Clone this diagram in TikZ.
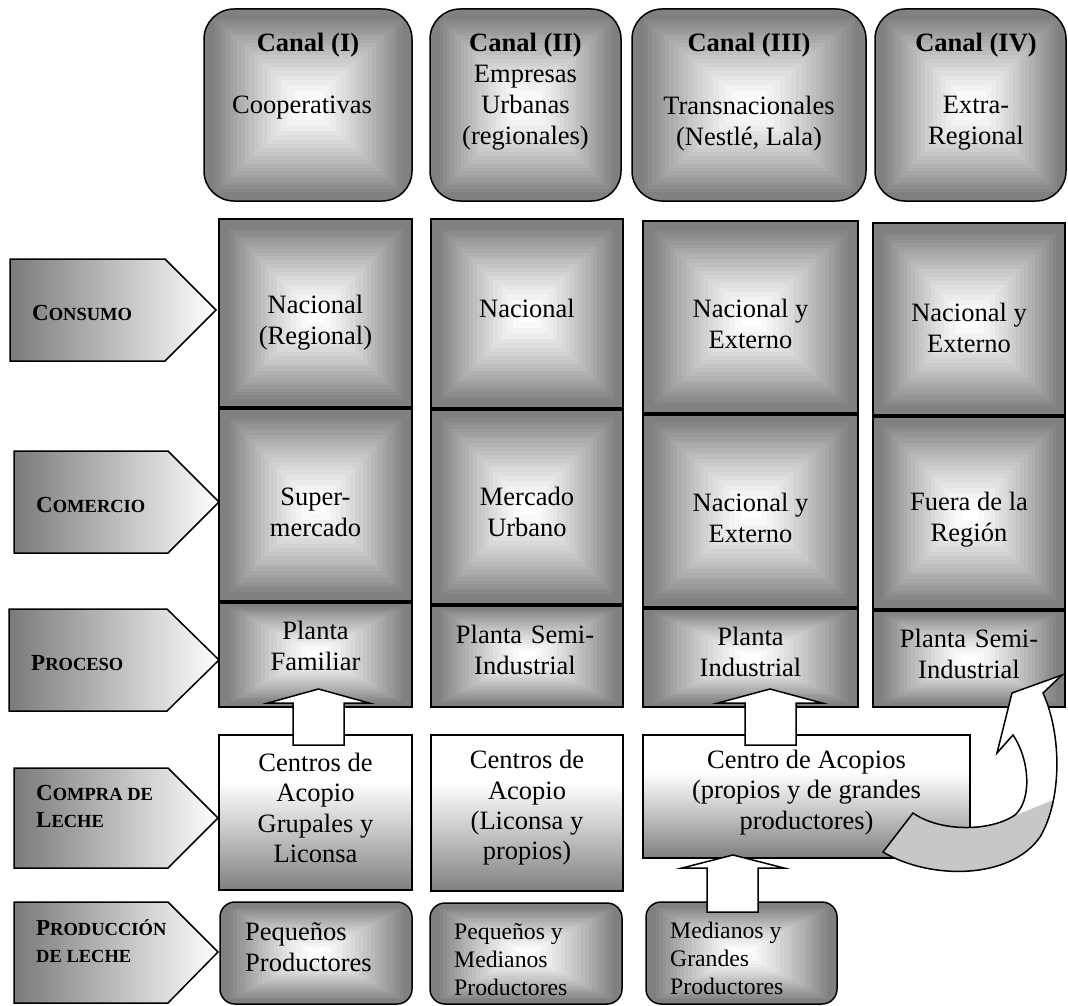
\documentclass[tikz,border=0pt]{standalone}
\usepackage{fontspec}
\setmainfont{Liberation Serif}
\usetikzlibrary{calc}

% grey frame that brightens towards the centre in rectangular rings
\pgfdeclarefunctionalshading{rectglow}{\pgfpoint{-50bp}{-50bp}}{\pgfpoint{50bp}{50bp}}{}{%
  abs exch abs 2 copy lt {exch} if pop
  25 div 0.9 div
  dup 1 gt {pop 1} if
  1.3 exp
  20 mul floor 20 div
  0.5 mul 1 exch sub
  dup dup
}
% white at the top, grey at the bottom
\pgfdeclareverticalshading{compragrad}{100bp}{color(0bp)=(black!50); color(25bp)=(black!50); color(44bp)=(black!22); color(60bp)=(white); color(100bp)=(white)}

\newcommand\placebox[6]{%
  \pgfmathsetmacro\boxwd{#5-#3}%
  \pgfmathsetmacro\boxht{#6-#4}%
  \node[#1, inner sep=0pt, minimum width=\boxwd pt, minimum height=\boxht pt] (#2) at ({(#3+#5)/2},{(#4+#6)/2}) {};%
}
\newcommand\sck[2]{{\fontsize{23}{27}\selectfont #1}{\fontsize{18.5}{27}\selectfont #2}}

\tikzset{
  cell/.style={draw=black, line width=1.5pt, shade, shading=rectglow},
  canal/.style={cell, rounded corners=30pt},
  prod/.style={cell, rounded corners=15pt},
  acopio/.style={draw=black, line width=1.5pt, shade, shading=compragrad},
  tag/.style={draw=black, line width=1.5pt, left color=black!52, right color=white, line join=miter},
  sepline/.style={line width=4pt},
  blockarrow/.style={draw=black, line width=1.5pt, fill=white, line join=miter},
  txt/.style={font=\fontsize{26.5}{31}\selectfont, align=center, inner sep=0pt},
  txtb/.style={txt, font=\bfseries\fontsize{26.5}{31}\selectfont},
  txtc/.style={txt, font=\fontsize{26.5}{30.3}\selectfont},
  txts/.style={font=\fontsize{23.7}{28}\selectfont, align=left, inner sep=0pt, anchor=west},
  tagtxt/.style={font=\bfseries\fontsize{23}{27}\selectfont, align=left, inner sep=0pt, anchor=west},
}

\begin{document}
\begin{tikzpicture}[x=1pt,y=-1pt]
\path[fill=white,use as bounding box] (0,0) rectangle (1068,1006);

% channel headers
\placebox{canal}{c1}{204}{9}{412}{201}
\placebox{canal}{c2}{430}{9}{621}{201}
\placebox{canal}{c3}{632}{9}{866}{201}
\placebox{canal}{c4}{875}{9}{1066}{201}

% stage labels
\path[tag] (10,259) -- (165,259) -- (216,310) -- (165,361) -- (10,361) -- cycle;
\path[tag] (14,451) -- (168,451) -- (219,502) -- (168,553) -- (14,553) -- cycle;
\path[tag] (9,609) -- (167,609) -- (219,660) -- (167,711) -- (9,711) -- cycle;
\path[tag] (14,768) -- (168,768) -- (218,818) -- (168,868) -- (14,868) -- cycle;
\path[tag] (14,902) -- (168,902) -- (218,952) -- (168,1003) -- (14,1003) -- cycle;

% stacked cells per channel
\placebox{cell}{n1}{219}{219}{412}{407.5}
\placebox{cell}{s1}{219}{407.5}{412}{601}
\placebox{cell}{p1}{219}{601}{412}{707}
\placebox{cell}{n2}{431}{219}{623}{408}
\placebox{cell}{s2}{431}{408}{623}{604}
\placebox{cell}{p2}{431}{604}{623}{707}
\placebox{cell}{n3}{643}{221}{858}{413}
\placebox{cell}{s3}{643}{413}{858}{607}
\placebox{cell}{p3}{643}{607}{858}{707}
\placebox{cell}{n4}{873}{223}{1065}{415.5}
\placebox{cell}{s4}{873}{415.5}{1065}{609}
\placebox{cell}{p4}{873}{609}{1065}{707}
\foreach \a/\b in {n1/s1,s1/p1,n2/s2,s2/p2,n3/s3,s3/p3,n4/s4,s4/p4}
  \draw[sepline] (\a.south west) -- (\a.south east);

% milk collection
\placebox{acopio}{a1}{219}{735}{412}{890}
\placebox{acopio}{a2}{431}{735}{623}{891}
\placebox{acopio}{a3}{643}{735}{970}{858}

% producers
\placebox{prod}{pr1}{220}{902}{412}{1004}
\placebox{prod}{pr2}{430}{903}{622}{1004}
\placebox{prod}{pr3}{646}{902}{837}{1004}

% block arrows
\path[blockarrow] (293,745) -- (293,703) -- (268,703) -- (318.5,689) -- (369,703) -- (344,703) -- (344,745) -- cycle;
\path[blockarrow] (745,745) -- (745,703) -- (718,703) -- (770,689) -- (822,703) -- (796,703) -- (796,745) -- cycle;
\path[blockarrow] (707,912) -- (707,868) -- (682,868) -- (733,855) -- (784,868) -- (758,868) -- (758,912) -- cycle;

% curved arrow towards the semi-industrial plant
\begin{scope}
\clip (883,852) .. controls (930,880) and (1010,880) .. (1040,837) .. controls (1062,800) and (1062,735) .. (1043,693) -- (1062,675) -- (1012,693) -- (997,753) -- (1013,735) .. controls (1030,760) and (1032,800) .. (1015,815) .. controls (990,832) and (940,832) .. (913,813) -- cycle;
\fill[white] (860,660) rectangle (1068,900);
\fill[black!22] (870,800) -- (1014,816) -- (1058,798) -- (1068,900) -- (870,900) -- cycle;
\end{scope}
\draw[line width=1.5pt, line join=miter] (883,852) .. controls (930,880) and (1010,880) .. (1040,837) .. controls (1062,800) and (1062,735) .. (1043,693) -- (1062,675) -- (1012,693) -- (997,753) -- (1013,735) .. controls (1030,760) and (1032,800) .. (1015,815) .. controls (990,832) and (940,832) .. (913,813) -- cycle;

% header texts
\node[txtb] (h1) at (308,45) {Canal (I)};
\node[txtb] (h2) at (525.5,45) {Canal (II)};
\node[txtb] (h3) at (749,45) {Canal (III)};
\node[txtb] (h4) at (976,45) {Canal (IV)};
\node[txt] (hb1) at (302,108) {Cooperativas};
\node[txt] (hb2) at (525.5,108) {Empresas\\Urbanas\\(regionales)};
\node[txt] (hb3) at (749,123.5) {Transnacionales\\(Nestlé, Lala)};
\node[txt] (hb4) at (976,123.5) {Extra-\\Regional};

% stage texts
\node[tagtxt] (lconsumo) at (32,313) {\sck{C}{ONSUMO}};
\node[tagtxt] (lcomercio) at (36,505) {\sck{C}{OMERCIO}};
\node[tagtxt] (lproceso) at (31,663) {\sck{P}{ROCESO}};
\node[tagtxt] (lcompra) at (36,806) {\sck{C}{OMPRA DE}\\\sck{L}{ECHE}};
\node[tagtxt] (lproduccion) at (36,941) {\sck{P}{RODUCCIÓN}\\{\fontsize{18.5}{27}\selectfont DE LECHE}};

% cell texts
\node[txt] (tn1) at (315.5,323) {Nacional\\(Regional)};
\node[txt] (tn2) at (527,308) {Nacional};
\node[txt] (tn3) at (750.5,324) {Nacional y\\Externo};
\node[txt] (tn4) at (969,327.5) {Nacional y\\Externo};
\node[txt] (ts1) at (315.5,512) {Super-\\mercado};
\node[txt] (ts2) at (527,512) {Mercado\\Urbano};
\node[txt] (ts3) at (750.5,518) {Nacional y\\Externo};
\node[txt] (ts4) at (969,520) {Fuera de la\\Región};
\node[txt] (tp1) at (315.5,646) {Planta\\Familiar};
\node[txt] (tp2) at (525,650) {Planta\hspace{2pt} Semi-\\Industrial};
\node[txt] (tp3) at (750.5,652) {Planta\\Industrial};
\node[txt] (tp4) at (969,654) {Planta\hspace{2pt} Semi-\\Industrial};
\node[txtc] (ta1) at (315.5,808) {Centros de\\Acopio\\Grupales y\\Liconsa};
\node[txtc] (ta2) at (527,808) {Centros de\\Acopio\\(Liconsa y\\propios)};
\node[txtc] (ta3) at (806.5,792.5) {Centro de Acopios\\(propios y de grandes\\productores)};
\node[txt, align=left, anchor=west] (tr1) at (245,947) {Pequeños\\Productores};
\node[txts] (tr2) at (454,960) {Pequeños y\\Medianos\\Productores};
\node[txts] (tr3) at (670,958) {Medianos y\\Grandes\\Productores};
\end{tikzpicture}
\end{document}
